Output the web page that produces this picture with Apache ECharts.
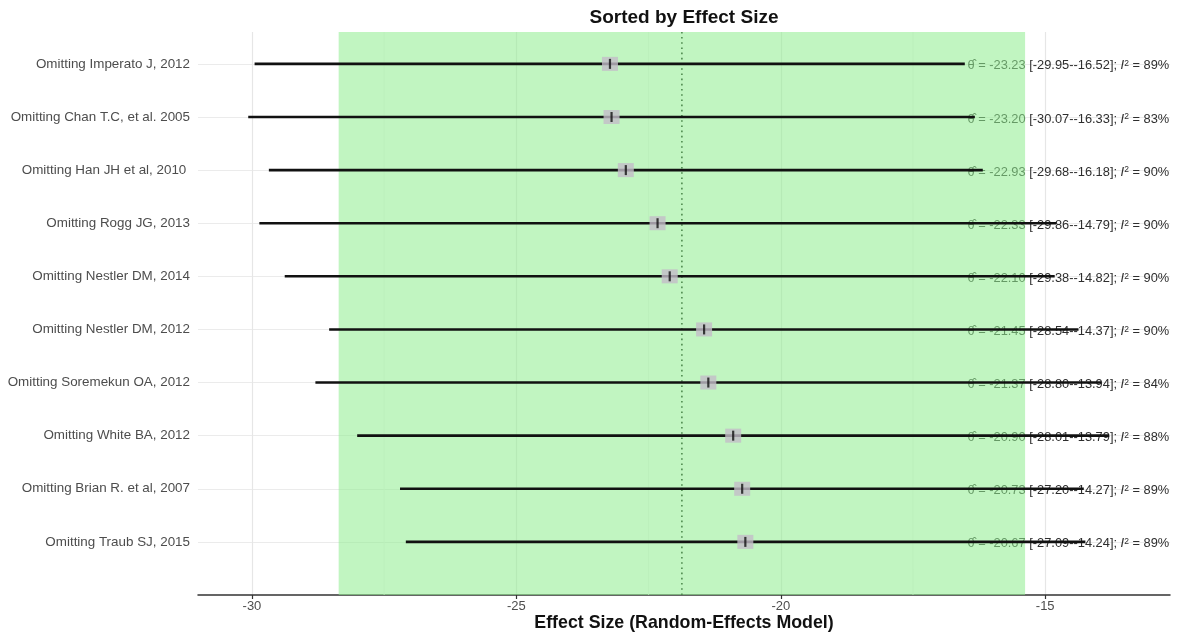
<!DOCTYPE html>
<html><head><meta charset="utf-8">
<script src="https://cdn.jsdelivr.net/npm/echarts@6/dist/echarts.min.js"></script>
<style>html,body{margin:0;padding:0;background:#fff}#c{width:1177px;height:635px}</style>
</head><body><div id="c"></div>
<script>
const studies = ['Omitting Imperato J, 2012','Omitting Chan T.C, et al. 2005','Omitting Han JH et al, 2010 ','Omitting Rogg JG, 2013','Omitting Nestler DM, 2014','Omitting Nestler DM, 2012','Omitting Soremekun OA, 2012','Omitting White BA, 2012','Omitting Brian R. et al, 2007','Omitting Traub SJ, 2015'];
const estimates = [-23.23,-23.20,-22.93,-22.33,-22.10,-21.45,-21.37,-20.90,-20.73,-20.67];
const lowerCI = [-29.95,-30.07,-29.68,-29.86,-29.38,-28.54,-28.80,-28.01,-27.20,-27.09];
const upperCI = [-16.52,-16.33,-16.18,-14.79,-14.82,-14.37,-13.94,-13.79,-14.27,-14.24];
const i2 = [89,83,90,90,90,90,84,88,89,89];
const pooled = [-21.87];
const pooledCI = [-28.36, -15.38];
const minorTicks = [-27.5, -22.5, -17.5];
const annotationX = -16.47;
const xRange = [-31.02, -12.64];
const yRange = [0, 10.6];

const FONT = '"Liberation Sans", Arial, Helvetica, sans-serif';
const n = studies.length;
const rowOf = i => n - i;

const pointData = estimates.map((v, i) => [v, rowOf(i)]);
const ciData = estimates.map((v, i) => [lowerCI[i], upperCI[i], rowOf(i)]);
const textData = estimates.map((v, i) => [annotationX, rowOf(i), v, lowerCI[i], upperCI[i], i2[i]]);

const TXT = '#2e2e2e';
const AFS = 12.85;

const chart = echarts.init(document.getElementById('c'), null, {renderer: 'canvas'});
chart.setOption({
  animation: false,
  backgroundColor: '#fff',
  title: {
    text: 'Sorted by Effect Size', left: 679, top: 3, textAlign: 'center',
    textStyle: {fontFamily: FONT, fontSize: 19, fontWeight: 'bold', color: '#111'}
  },
  grid: {left: 198, right: 7, top: 32, bottom: 40, containLabel: false, outerBoundsMode: 'none'},
  xAxis: {
    type: 'value', min: xRange[0], max: xRange[1], minInterval: 5, maxInterval: 5, splitNumber: 4,
    axisLine: {show: true, onZero: false, lineStyle: {color: '#333', width: 1.5}},
    axisTick: {show: true, length: 4, lineStyle: {color: '#333', width: 1.2}},
    axisLabel: {color: '#4d4d4d', fontFamily: FONT, fontSize: 13, margin: 5, showMinLabel: false, showMaxLabel: false},
    splitLine: {show: true, showMinLine: false, showMaxLine: false, lineStyle: {color: '#e6e6e6', width: 1.2}},
    name: 'Effect Size (Random-Effects Model)', nameLocation: 'middle', nameGap: 19, nameMoveOverlap: false,
    nameTextStyle: {fontFamily: FONT, fontSize: 17.8, fontWeight: 'bold', color: '#111'}
  },
  yAxis: {
    type: 'value', min: yRange[0], max: yRange[1], interval: 1,
    axisLine: {show: false}, axisTick: {show: false},
    axisLabel: {
      color: '#4d4d4d', fontFamily: FONT, fontSize: 13.4, margin: 8,
      formatter: v => (Number.isInteger(v) && v >= 1 && v <= n) ? studies[n - v] : ''
    },
    splitLine: {show: true, showMinLine: false, showMaxLine: false, lineStyle: {color: '#ebebeb', width: 1.2}}
  },
  series: [
    {
      type: 'custom', z: 1, silent: true, data: minorTicks.map(v => [v]),
      renderItem: (params, api) => {
        const a = api.coord([api.value(0), yRange[0]]);
        const b = api.coord([api.value(0), yRange[1]]);
        return {type: 'line', shape: {x1: a[0], y1: a[1], x2: b[0], y2: b[1]}, style: {stroke: '#f0f0f0', lineWidth: 0.8}};
      }
    },
    {
      type: 'custom', z: 2, silent: true, data: textData,
      renderItem: (params, api) => {
        const p = api.coord([api.value(0), api.value(1)]);
        const est = api.value(2).toFixed(2), lo = api.value(3).toFixed(2), hi = api.value(4).toFixed(2), q = api.value(5);
        return {
          type: 'text', x: p[0], y: p[1] + 2,
          style: {
            text: '{t|θ̂} {d|= ' + est + ' [' + lo + '-' + hi + ']; }{i|I}{s|2}{d| = ' + q + '%}',
            align: 'left', verticalAlign: 'middle', fill: TXT,
            font: AFS + 'px ' + FONT,
            rich: {
              t: {fontFamily: FONT, fontSize: AFS, color: TXT},
              d: {fontFamily: FONT, fontSize: AFS, color: TXT},
              i: {fontFamily: FONT, fontSize: AFS, fontStyle: 'italic', color: TXT},
              s: {fontFamily: FONT, fontSize: 8.5, verticalAlign: 'top', color: TXT}
            }
          }
        };
      }
    },
    {
      type: 'custom', z: 3, silent: true, data: [pooledCI],
      renderItem: (params, api) => {
        const a = api.coord([api.value(0), yRange[1]]);
        const b = api.coord([api.value(1), yRange[0]]);
        return {type: 'rect', shape: {x: a[0], y: a[1], width: b[0] - a[0], height: b[1] - a[1]}, style: {fill: 'rgba(144,238,144,0.56)'}};
      }
    },
    {
      type: 'custom', z: 4, silent: true, data: pooled.map(v => [v]),
      renderItem: (params, api) => {
        const a = api.coord([api.value(0), yRange[0]]);
        const b = api.coord([api.value(0), yRange[1]]);
        return {type: 'line', shape: {x1: a[0], y1: a[1], x2: b[0], y2: b[1]}, style: {stroke: '#4f8a4f', lineWidth: 1.6, lineDash: [1.6, 3.6]}};
      }
    },
    {
      type: 'custom', z: 5, silent: true, data: ciData,
      renderItem: (params, api) => {
        const a = api.coord([api.value(0), api.value(2)]);
        const b = api.coord([api.value(1), api.value(2)]);
        return {type: 'line', shape: {x1: a[0], y1: a[1], x2: b[0], y2: b[1]}, style: {stroke: '#111', lineWidth: 2.6}};
      }
    },
    {
      type: 'scatter', z: 6, silent: true, data: pointData,
      symbol: 'rect', symbolSize: [16, 14], itemStyle: {color: '#c3bdc8'}
    },
    {
      type: 'scatter', z: 7, silent: true, data: pointData,
      symbol: 'rect', symbolSize: [2.2, 10], itemStyle: {color: '#111'}
    }
  ]
});
</script></body></html>
